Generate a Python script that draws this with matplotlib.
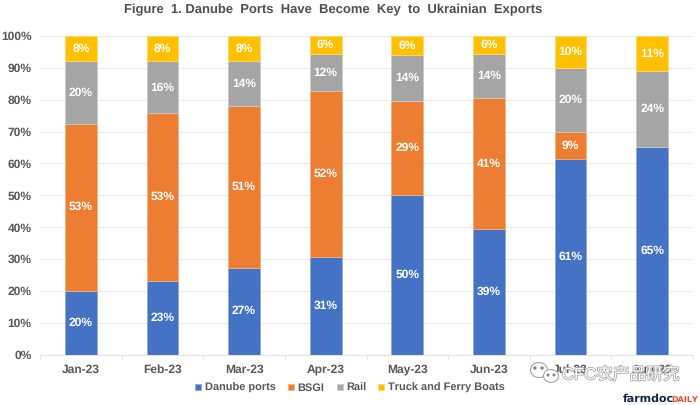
import matplotlib
matplotlib.use("Agg")
import matplotlib.pyplot as plt
import matplotlib.patheffects as pe
from matplotlib.patches import Circle, Ellipse
import numpy as np

plt.rcParams['font.family'] = ['Liberation Sans', 'Noto Sans CJK SC', 'DejaVu Sans']
plt.rcParams['text.hinting'] = 'none'
plt.rcParams['text.hinting_factor'] = 1

months = ["Jan-23", "Feb-23", "Mar-23", "Apr-23", "May-23", "Jun-23", "Jul-23", "Aug-23"]
danube = [20.0, 23.0, 27.2, 30.6, 50.0, 39.3, 61.3, 65.0]
bsgi = [52.5, 52.8, 50.7, 52.1, 29.7, 41.2, 8.5, 0.0]
rail = [19.5, 16.2, 14.1, 11.5, 14.3, 14.0, 20.2, 24.0]
truck = [8.0, 8.0, 8.0, 5.8, 6.0, 5.5, 10.0, 11.0]

danube_lab = ["20%", "23%", "27%", "31%", "50%", "39%", "61%", "65%"]
bsgi_lab = ["53%", "53%", "51%", "52%", "29%", "41%", "9%", ""]
rail_lab = ["20%", "16%", "14%", "12%", "14%", "14%", "20%", "24%"]
truck_lab = ["8%", "8%", "8%", "6%", "6%", "6%", "10%", "11%"]

series = [("Danube ports", danube, danube_lab, "#4472c4", "#8faadc"),
          ("BSGI", bsgi, bsgi_lab, "#ed7d31", "#f4b183"),
          ("Rail", rail, rail_lab, "#a5a5a5", "#c9c9c9"),
          ("Truck and Ferry Boats", truck, truck_lab, "#ffc000", "#ffd966")]

grey = "#595959"
W, H = 700, 405
fig = plt.figure(figsize=(7, 4.05), dpi=100)
ax = fig.add_axes([40 / W, 1 - 354.5 / H, 653 / W, 318.5 / H])

x = np.arange(len(months))
bottom = np.zeros(len(months))
for name, vals, labs, col, edge in series:
    vals = np.array(vals)
    ax.bar(x, vals, 0.39, bottom=bottom, color=col, edgecolor=edge, linewidth=0.6, label=name, zorder=3)
    for xi, b, v, lab in zip(x, bottom, vals, labs):
        if lab:
            ax.text(xi, b + v / 2, lab, color="white", ha="center", va="center",
                    fontsize=8.5, fontweight="bold", zorder=4)
    bottom = bottom + vals

ax.set_xlim(-0.5, 7.5)
ax.set_ylim(0, 100)
ax.set_yticks(np.arange(0, 101, 10))
ax.set_yticklabels([f"{v}%" for v in range(0, 101, 10)], fontsize=8.5, fontweight="bold", color=grey)
ax.set_xticks(x)
ax.set_xticklabels(months, fontsize=8.5, fontweight="bold", color=grey)
ax.set_xticks(np.arange(-0.5, 8), minor=True)
ax.tick_params(axis="y", length=0, pad=6)
ax.tick_params(axis="x", which="major", length=0, pad=7)
ax.tick_params(axis="x", which="minor", length=3, color="#e4e4e4", width=0.8)
ax.grid(axis="y", color="#ececec", linewidth=0.9, zorder=0)
for s in ["top", "right", "left"]:
    ax.spines[s].set_visible(False)
ax.spines["bottom"].set_color("#e4e4e4")

fig.text(333 / W, 1 - 9.5 / H, "Figure  1. Danube  Ports  Have  Become  Key  to  Ukrainian  Exports",
         ha="center", va="center", fontsize=9.2, fontweight="bold", color="#505050")

handles, labels = ax.get_legend_handles_labels()
fig.legend(handles, labels, loc="center", bbox_to_anchor=(350 / W, 1 - 388 / H), ncol=4, frameon=False,
           handlelength=0.55, handleheight=0.55, handletextpad=0.3, columnspacing=1.1,
           labelcolor=grey, prop={"weight": "bold", "size": 8})

# watermark
bg = fig.add_axes([0, 0, 1, 1], zorder=5)
bg.set_xlim(0, W)
bg.set_ylim(H, 0)
bg.axis("off")
outline = [pe.withStroke(linewidth=1.1, foreground="#a0a0a0")]
bg.add_patch(Ellipse((539, 370), 17, 15, facecolor="white", edgecolor="#a5a5a5", lw=0.8))
bg.add_patch(Ellipse((551, 376), 15, 13, facecolor="white", edgecolor="#a5a5a5", lw=0.8))
bg.add_patch(Circle((535, 368), 1, color="#808080"))
bg.add_patch(Circle((542, 368), 1, color="#808080"))
bg.add_patch(Circle((548, 375), 0.8, color="#808080"))
bg.add_patch(Circle((554, 375), 0.8, color="#808080"))
bg.text(562, 375, "CFC农产品研究", fontsize=12, color="white", ha="left", va="center", path_effects=outline)

bg.text(623, 399, "farmdoc", fontsize=8.2, fontweight="bold", color="#13294b", ha="left", va="center",
        family="DejaVu Sans")
bg.text(671, 399.5, "DAILY", fontsize=5.6, fontweight="bold", color="#e84a27", ha="left", va="center",
        family="DejaVu Sans")

fig.savefig("out.png", dpi=100)
